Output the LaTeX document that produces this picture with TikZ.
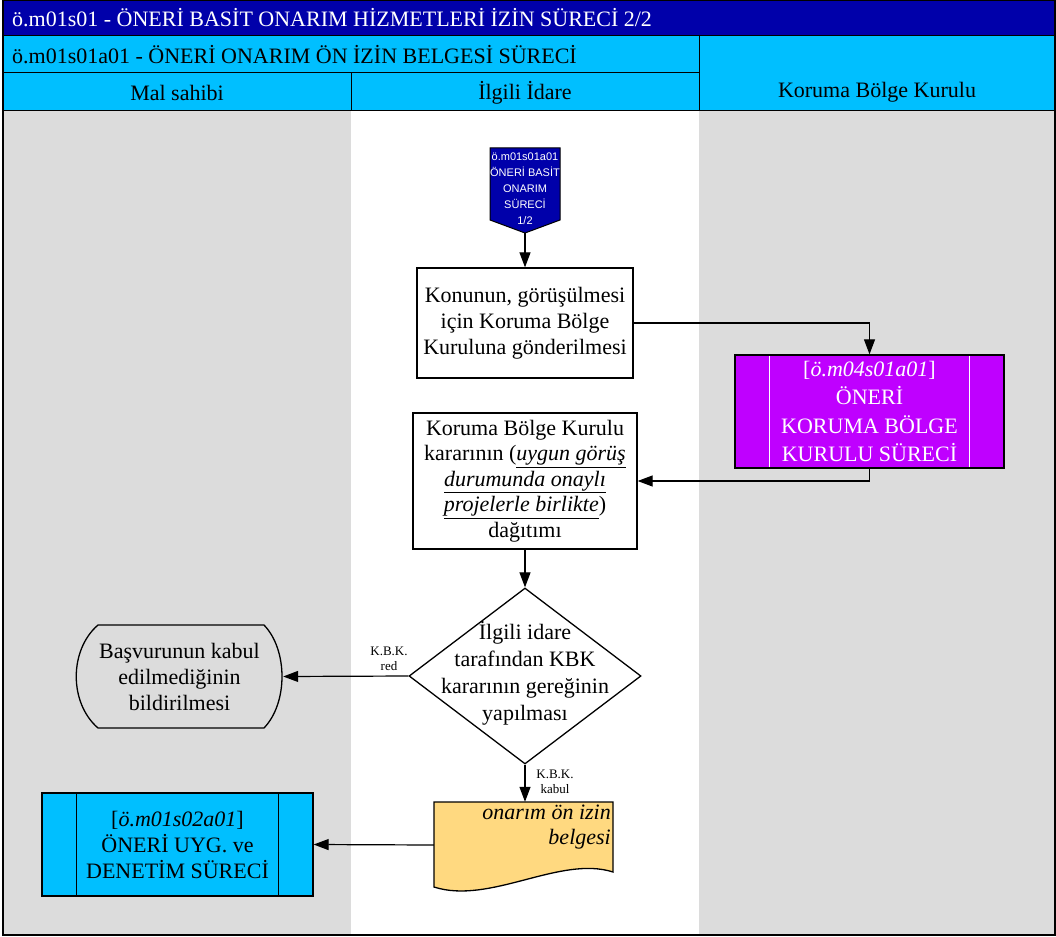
\documentclass[tikz,border=0pt]{standalone}
\usepackage{fontspec}
\setmainfont{Liberation Serif}
\newfontfamily\sansf{Liberation Sans}
\usetikzlibrary{arrows.meta,shapes.geometric}
\definecolor{titleblue}{RGB}{0,0,170}
\definecolor{cyanh}{RGB}{0,191,255}
\definecolor{lanegray}{RGB}{220,220,220}
\definecolor{purplek}{RGB}{191,0,255}
\definecolor{docyellow}{RGB}{255,217,128}
\begin{document}
\begin{tikzpicture}[x=1pt,y=-1pt,
  font=\fontsize{22}{26}\selectfont,
  arr/.style={-{Triangle[length=15pt,width=11pt]}, line width=1.2pt},
  box/.style={draw, line width=1.3pt, fill=white, align=center, inner sep=0pt},
  small/.style={font=\fontsize{13}{15}\selectfont, align=center, inner sep=0pt},
  hdr/.style={inner sep=0pt}]
\useasboundingbox (0,0) rectangle (1056,936);
% lanes
\fill[lanegray] (3,111) rectangle (351,935);
\fill[white] (351,111) rectangle (699,935);
\fill[lanegray] (699,111) rectangle (1055,935);
% header
\fill[titleblue] (3,0) rectangle (1055,36);
\fill[cyanh] (3,36) rectangle (1055,111);
\draw[line width=1pt] (3,36) -- (1055,36);
\draw[line width=1pt] (3,73) -- (699,73);
\draw[line width=1pt] (3,111) -- (1055,111);
\draw[line width=1pt] (699,36) -- (699,111);
\draw[line width=1pt] (351,73) -- (351,111);
\draw[line width=1.5pt] (3,0.75) rectangle (1055,935);
\node[hdr, anchor=west, text=white] (title) at (12,18) {ö.m01s01 - ÖNERİ BASİT ONARIM HİZMETLERİ İZİN SÜRECİ 2/2};
\node[hdr, anchor=west] (sub) at (12,55) {ö.m01s01a01 - ÖNERİ ONARIM ÖN İZİN BELGESİ SÜRECİ};
\node[hdr] (lane1) at (177,93) {Mal sahibi};
\node[hdr] (lane2) at (525,93) {İlgili İdare};
\node[hdr] (lane3) at (877,92) {Koruma Bölge Kurulu};
% off-page connector
\draw[fill=titleblue, line width=1pt] (490,148) -- (560,148) -- (560,220) -- (525,233) -- (490,220) -- cycle;
\coordinate (offtip) at (525,233);
\node[text=white, align=center, inner sep=0pt, font=\sansf\fontsize{11}{16}\selectfont] (off) at (525,189) {ö.m01s01a01\\ÖNERİ BASİT\\ONARIM\\SÜRECİ\\1/2};
% boxes
\node[box, minimum width=216pt, minimum height=110pt] (b1) at (525,323) {Konunun, görüşülmesi\\için Koruma Bölge\\Kuruluna gönderilmesi};
\node[box, fill=purplek, text=white, minimum width=269pt, minimum height=113pt, font=\fontsize{22}{28.5}\selectfont] (kbk) at (869.5,411.5) {[\textit{ö.m04s01a01}]\\ÖNERİ\\KORUMA BÖLGE\\KURULU SÜRECİ};
\draw[white, line width=1.5pt] ([xshift=35pt,yshift=-1.5pt]kbk.north west) -- ([xshift=35pt,yshift=1.5pt]kbk.south west);
\draw[white, line width=1.5pt] ([xshift=-35pt,yshift=-1.5pt]kbk.north east) -- ([xshift=-35pt,yshift=1.5pt]kbk.south east);
\node[box, minimum width=224pt, minimum height=136pt, font=\fontsize{22}{25.5}\selectfont] (b2) at (525,481) {Koruma Bölge Kurulu\\kararının (\underline{\textit{uygun görüş}}\\\underline{\textit{durumunda onaylı}}\\\underline{\textit{projelerle birlikte}})\\dağıtımı};
\node[diamond, draw, fill=white, line width=1.3pt, minimum width=232pt, minimum height=176pt, inner sep=0pt] (dec) at (525,676) {};
\node[align=center, inner sep=0pt, font=\fontsize{22}{27}\selectfont] (dectext) at (525,673) {İlgili idare\\tarafından KBK\\kararının gereğinin\\yapılması};
% terminal
\draw[fill=lanegray, line width=1.3pt] (98,625) -- (264,625) .. controls (288,650) and (288,703) .. (264,728) -- (98,728) .. controls (69,703) and (69,650) .. (98,625) -- cycle;
\node[align=center, inner sep=0pt, minimum width=207pt, minimum height=103pt] (term) at (179.5,676.5) {Başvurunun kabul\\edilmediğinin\\bildirilmesi};
% document
\draw[fill=docyellow, line width=1.3pt] (434,802) -- (613,802) -- (613,872) .. controls (560,855) and (490,905) .. (434,887) -- cycle;
\node[inner sep=0pt, minimum width=179pt, minimum height=86pt] (doc) at (523.5,845) {};
\node[align=right, inner sep=0pt, anchor=north east, font=\itshape\fontsize{22}{25}\selectfont] (doctext) at (611,805) {onarım ön izin\\belgesi};
% cyan process
\node[box, fill=cyanh, minimum width=271pt, minimum height=103pt] (uyg) at (177.5,844.5) {[\textit{ö.m01s02a01}]\\ÖNERİ UYG. ve\\DENETİM SÜRECİ};
\draw[line width=1.3pt] ([xshift=35pt]uyg.north west) -- ([xshift=35pt]uyg.south west);
\draw[line width=1.3pt] ([xshift=-35pt]uyg.north east) -- ([xshift=-35pt]uyg.south east);
% connectors
\draw[arr] (offtip) -- (b1.north);
\draw[arr] (b1.east) -| (kbk.north);
\draw[arr] (kbk.south) |- (b2.east);
\draw[arr] (b2.south) -- (dec.north);
\draw[arr] (dec.west) -- (term.east);
\draw[arr] (dec.south) -- (dec.south |- doc.north);
\draw[arr] (doc.west) -- (uyg.east);
\node[small] (lred) at (389,659) {K.B.K.\\red};
\node[small] (lkabul) at (555,782) {K.B.K.\\kabul};
\end{tikzpicture}
\end{document}
